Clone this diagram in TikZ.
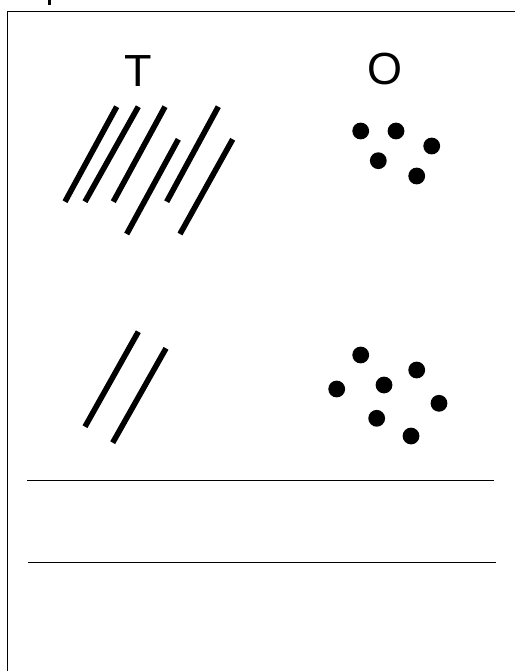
\documentclass[tikz,border=0pt]{standalone}
\usepackage{fontspec}
\setmainfont{Liberation Sans}
\begin{document}
\begin{tikzpicture}[x=1pt,y=-1pt,
  frame/.style={line width=1.8pt},
  rule/.style={line width=1.4pt},
  stroke/.style={line width=5.6pt},
  dot/.style={fill=black},
  lbl/.style={font=\fontsize{45}{45}\selectfont, inner sep=0pt, anchor=base}]
\useasboundingbox (0,0) rectangle (515,671);
% cut-off mark at top
\draw[line width=2.4pt] (49.5,0) -- (49.5,5);
% frame
\draw[frame] (7.5,671) -- (7.5,11.5) -- (515,11.5);
% labels
\node[lbl] (T) at (138,87) {T};
\node[lbl] (O) at (385,84.5) {O};
% upper tally strokes
\draw[stroke] (116.7,106.7) -- (65,201.7);
\draw[stroke] (138.3,106.7) -- (85,201.7);
\draw[stroke] (165,106.7) -- (113.3,201.7);
\draw[stroke] (178.3,139.3) -- (126.7,234);
\draw[stroke] (218.3,106.7) -- (166.7,201.7);
\draw[stroke] (232.7,139.3) -- (180,234);
% upper dots
\foreach \p in {(360.7,131),(396,131),(431.7,146),(378.3,160.7),(416.7,176)}
  \fill[dot] \p circle (8.4);
% lower tally strokes
\draw[stroke] (138.3,331.7) -- (85,426.7);
\draw[stroke] (166,348.3) -- (112.7,442.7);
% lower dots
\foreach \p in {(360.7,355),(416.7,370),(336.7,389),(384,385),(439,403.3),(376.7,418.3),(411,436)}
  \fill[dot] \p circle (8.4);
% answer lines
\draw[rule] (27,480.7) -- (494,480.7);
\draw[rule] (28,562.7) -- (496,562.7);
\end{tikzpicture}
\end{document}
